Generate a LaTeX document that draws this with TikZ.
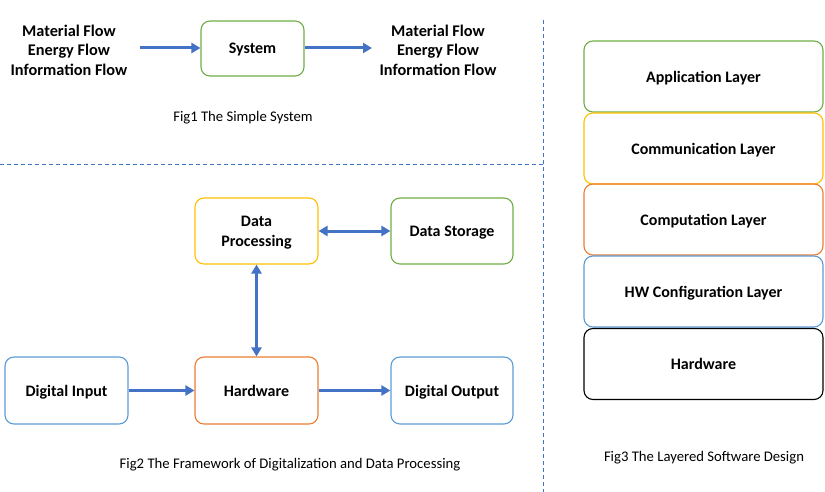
\documentclass[tikz,border=0pt]{standalone}
\usepackage{fontspec}
\setmainfont{Carlito}
\usetikzlibrary{arrows.meta,positioning}

\definecolor{figgreen}{HTML}{70AD47}
\definecolor{figyellow}{HTML}{FFC000}
\definecolor{figorange}{HTML}{ED7D31}
\definecolor{figblue}{HTML}{5B9BD5}
\definecolor{arrowblue}{HTML}{4472C4}

\begin{document}
\begin{tikzpicture}[x=1pt, y=-1pt,
		box/.style={draw, rounded corners=9pt, line width=1.1pt, align=center,
			font=\fontsize{16}{20}\selectfont\bfseries, inner sep=0pt, text depth=0pt},
		flow/.style={align=center, font=\fontsize{16.3}{19.5}\selectfont\bfseries},
		caption/.style={font=\fontsize{14.7}{17}\selectfont},
		conn/.style={draw=arrowblue, line width=3pt,
			-{Triangle[length=9pt,width=10pt]}},
		biconn/.style={draw=arrowblue, line width=3pt,
			{Triangle[length=9pt,width=10pt]}-{Triangle[length=9pt,width=10pt]}},
		sep/.style={draw=arrowblue, line width=1pt, dash pattern=on 4pt off 3pt}]
		\useasboundingbox (0,0) rectangle (825,492);

		% fig1
		\node[flow] (inflow) at (69, 50) {Material Flow\\Energy Flow\\Information Flow};
		\node[box, draw=figgreen, minimum width=103pt, minimum height=55pt] (sys) at (252.5, 48.5) {System};
		\node[flow] (outflow) at (438, 50) {Material Flow\\Energy Flow\\Information Flow};
		\coordinate (inarrow) at (140, 48);
		\coordinate (outarrow) at (372, 48);
		\draw[conn] (inarrow) -- (sys.west |- inarrow);
		\draw[conn] (sys.east |- outarrow) -- (outarrow);
		\node[caption] (cap1) at (243, 118) {Fig1 The Simple System};

		% separators
		\coordinate (hsepl) at (0, 165);
		\coordinate (hsepr) at (543, 165);
		\coordinate (vsept) at (543, 20);
		\coordinate (vsepb) at (543, 492);
		\draw[sep] (hsepl) -- (hsepr);
		\draw[sep] (vsept) -- (vsepb);

		% fig2
		\node[box, draw=figyellow, minimum width=123pt, minimum height=66pt] (proc) at (256.5, 231) {Data\\Processing};
		\node[box, draw=figgreen, minimum width=122pt, minimum height=66pt] (store) at (452, 231) {Data Storage};
		\node[box, draw=figblue, minimum width=123pt, minimum height=67pt] (din) at (66.5, 390.5) {Digital Input};
		\node[box, draw=figorange, minimum width=123pt, minimum height=67pt] (hw) at (256.5, 390.5) {Hardware};
		\node[box, draw=figblue, minimum width=122pt, minimum height=67pt] (dout) at (452, 390.5) {Digital Output};
		\path[biconn] (proc) -- (store);
		\path[biconn] (proc) -- (hw);
		\path[conn] (din) -- (hw);
		\path[conn] (hw) -- (dout);
		\node[caption] (cap2) at (290, 465) {Fig2 The Framework of Digitalization and Data Processing};

		% fig3
		\node[box, draw=figgreen, minimum width=239pt, minimum height=71pt] (app) at (703.5, 76.5) {Application Layer};
		\node[box, draw=figyellow, minimum width=239pt, minimum height=71pt] (comm) at (703.5, 148.5) {Communication Layer};
		\node[box, draw=figorange, minimum width=239pt, minimum height=71pt] (comp) at (703.5, 219.5) {Computation Layer};
		\node[box, draw=figblue, minimum width=239pt, minimum height=71pt] (hwconf) at (703.5, 291.5) {HW Configuration Layer};
		\node[box, draw=black, minimum width=239pt, minimum height=71pt] (hwlayer) at (703.5, 364) {Hardware};
		\node[caption] (cap3) at (704, 458) {Fig3 The Layered Software Design};
	\end{tikzpicture}
\end{document}
